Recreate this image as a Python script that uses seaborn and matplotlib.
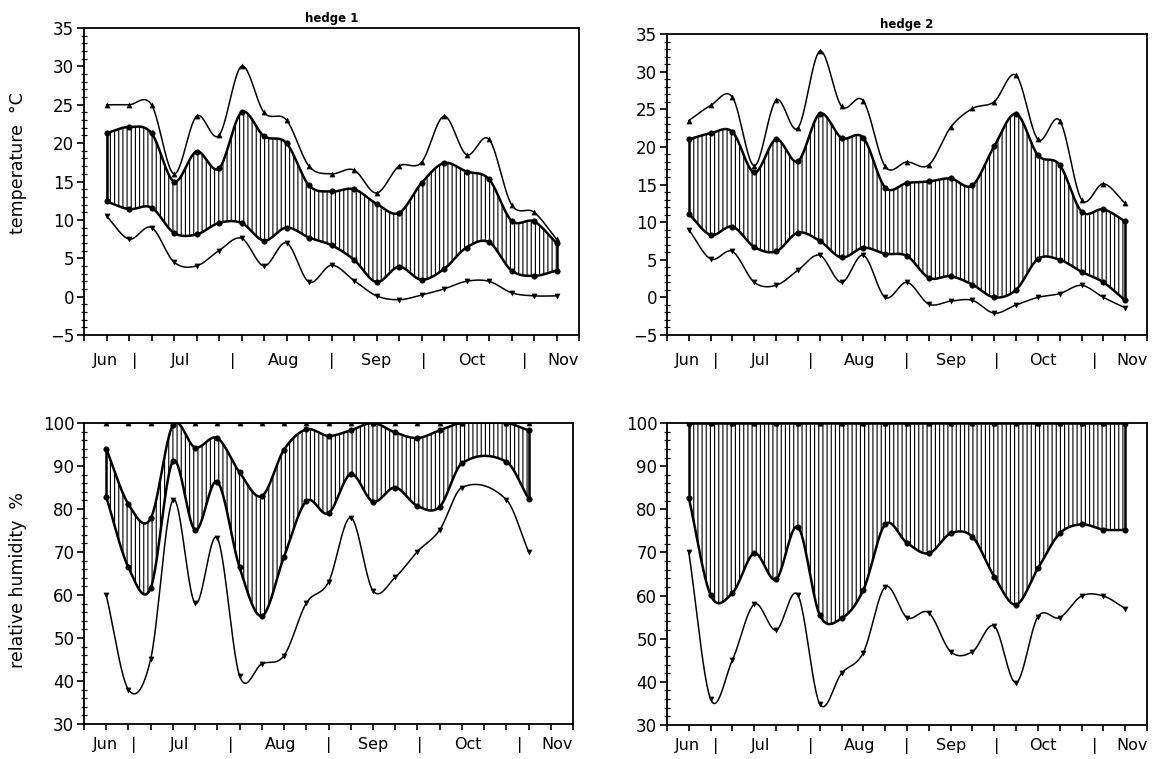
import numpy as np
import matplotlib
matplotlib.use("Agg")
import matplotlib.pyplot as plt
import seaborn as sns

# ---------------- data ----------------
idx = list(range(21))
idx_rh1 = [0, 1, 2, 3, 4, 5, 6, 7, 8, 9, 10, 11, 12, 13, 14, 15, 16, 18, 19]

t1_max = [25, 25, 25, 16, 23.5, 21, 30, 24, 23, 17, 16, 16.5, 13.5, 17, 17.5, 23.5, 18.5, 20.5, 12, 11, 7.5]
t1_upper = [21.3, 22.1, 21.3, 15, 18.9, 16.7, 24, 20.9, 20, 14.5, 13.7, 14, 12.1, 10.9, 14.8, 17.4, 16.3, 15.3, 9.9, 9.8, 7]
t1_lower = [12.4, 11.4, 11.6, 8.3, 8.1, 9.6, 9.6, 7.3, 9, 7.7, 6.7, 4.8, 1.9, 3.9, 2.2, 3.6, 6.4, 7.1, 3.4, 2.7, 3.4]
t1_min = [10.5, 7.5, 9, 4.5, 4, 6, 7.6, 4, 7, 1.9, 4.1, 2.1, 0.1, -0.4, 0.2, 1, 2, 2, 0.5, 0.1, 0.1]

t2_max = [23.5, 25.5, 26.6, 17.5, 26.2, 22.5, 32.7, 25.4, 26.1, 17.4, 18, 17.6, 22.6, 25.1, 26, 29.5, 21, 23.5, 13, 15.1, 12.5]
t2_upper = [21, 21.8, 22, 16.6, 21, 18.1, 24.4, 21.2, 21.2, 14.6, 15.2, 15.4, 15.8, 14.9, 20.1, 24.4, 18.9, 17.6, 11.4, 11.7, 10.1]
t2_lower = [11.1, 8.3, 9.4, 6.7, 6.1, 8.6, 7.5, 5.3, 6.6, 5.8, 5.5, 2.6, 2.8, 1.7, 0, 1, 5.1, 5, 3.4, 2, -0.4]
t2_min = [9, 5.1, 6.1, 2, 1.6, 3.6, 5.6, 2, 5.6, 0, 2, -0.9, -0.5, -0.4, -2.1, -1, 0, 0.5, 1.6, 0, -1.4]

rh1_max = [100] * 19
rh1_upper = [94, 81.1, 77.8, 99.5, 94.3, 96.5, 88.5, 83, 93.8, 98.5, 97, 98.3, 100, 97.8, 96.5, 98.3, 100, 100, 98.3]
rh1_lower = [82.8, 66.4, 61.6, 91.1, 75.1, 86.3, 66.4, 55.1, 68.9, 81.8, 79, 88.1, 81.7, 85, 80.7, 80.5, 90.6, 91, 82.4]
rh1_min = [60, 38, 45.1, 82.1, 58.1, 73.2, 41.2, 44, 45.9, 58.1, 63, 78, 61, 64.1, 70.1, 75.1, 85, 82.2, 70.1]

rh2_max = [100] * 21
rh2_upper = [100] * 21
rh2_lower = [82.7, 60.1, 60.6, 69.8, 63.8, 75.9, 55.5, 54.7, 61.3, 76.5, 72.2, 69.8, 74.4, 73.6, 64.4, 57.9, 66.3, 74.4, 76.5, 75.3, 75.2]
rh2_min = [70, 36, 45.1, 58, 52, 60.1, 34.9, 42, 46.8, 62, 54.9, 56, 47, 47, 52.9, 39.8, 55.1, 54.9, 59.9, 59.9, 57]

month_labels = ["Jun", "|", "Jul", "|", "Aug", "|", "Sep", "|", "Oct", "|", "Nov"]
month_pos = [-0.05, 1.25, 3.3, 5.6, 7.85, 10.0, 12.0, 14.1, 16.25, 18.6, 20.3]

titles = ["hedge 1", "hedge 2"]
ylabels = ["temperature  \u00b0C", "relative humidity  %"]

# ---------------- helpers ----------------
def smooth(x, y, n=24):
    """Catmull-Rom rendering of a line through the data points."""
    x = np.asarray(x, float)
    y = np.asarray(y, float)
    m = len(x)
    tang = np.zeros(m)
    tang[1:-1] = (y[2:] - y[:-2]) / (x[2:] - x[:-2])
    tang[0] = (y[1] - y[0]) / (x[1] - x[0])
    tang[-1] = (y[-1] - y[-2]) / (x[-1] - x[-2])
    xs, ys = [], []
    for i in range(m - 1):
        h = x[i + 1] - x[i]
        t = np.linspace(0, 1, n, endpoint=(i == m - 2))
        h00 = 2 * t**3 - 3 * t**2 + 1
        h10 = t**3 - 2 * t**2 + t
        h01 = -2 * t**3 + 3 * t**2
        h11 = t**3 - t**2
        xs.append(x[i] + t * h)
        ys.append(h00 * y[i] + h10 * h * tang[i] + h01 * y[i + 1] + h11 * h * tang[i + 1])
    return np.concatenate(xs), np.concatenate(ys)


sns.set_style("ticks")
plt.rcParams["font.family"] = ["DejaVu Sans"]
plt.rcParams["hatch.linewidth"] = 0.8
plt.rcParams["hatch.color"] = "black"
plt.rcParams["text.color"] = "black"
plt.rcParams["xtick.labelcolor"] = "black"
plt.rcParams["ytick.labelcolor"] = "black"

fig = plt.figure(figsize=(11.63, 7.59), dpi=100)
W, H = 1163, 759


def add_axes(l, t, r, b):
    return fig.add_axes([l / W, 1 - b / H, (r - l) / W, (b - t) / H])


ax_tl = add_axes(84, 28, 579, 335)
ax_tr = add_axes(667, 34, 1147, 335)
ax_bl = add_axes(84, 423, 573, 724)
ax_br = add_axes(667, 423, 1147, 725)

panels = [
    (ax_tl, idx, t1_max, t1_upper, t1_lower, t1_min, (-5, 35), 5, 1, 13),
    (ax_tr, idx, t2_max, t2_upper, t2_lower, t2_min, (-5, 35), 5, 1, 13),
    (ax_bl, idx_rh1, rh1_max, rh1_upper, rh1_lower, rh1_min, (30, 100), 10, 2, 9.5),
    (ax_br, idx, rh2_max, rh2_upper, rh2_lower, rh2_min, (30, 100), 10, 2, 9.5),
]

for ax, x, smax, sup, slo, smin, ylim, major, minor, xpad in panels:
    xu, yu = smooth(x, sup)
    xl, yl = smooth(x, slo)
    ax.fill_between(xu, yl, yu, facecolor="none", edgecolor="black",
                    hatch="||||", linewidth=0)
    ax.vlines([x[0], x[-1]], [slo[0], slo[-1]], [sup[0], sup[-1]],
              color="black", lw=1.8)
    for ser, lw in [(smax, 1.1), (sup, 1.8), (slo, 1.8), (smin, 1.1)]:
        xs, ys = smooth(x, ser)
        sns.lineplot(x=xs, y=ys, ax=ax, color="black", lw=lw,
                     estimator=None, sort=False)
    sns.scatterplot(x=x, y=smax, ax=ax, marker="^", color="black", s=14,
                    edgecolor="black", linewidth=0.3, zorder=5)
    sns.scatterplot(x=x, y=sup, ax=ax, marker="o", color="black", s=16,
                    edgecolor="black", linewidth=0.3, zorder=5)
    sns.scatterplot(x=x, y=slo, ax=ax, marker="o", color="black", s=16,
                    edgecolor="black", linewidth=0.3, zorder=5)
    sns.scatterplot(x=x, y=smin, ax=ax, marker="v", color="black", s=14,
                    edgecolor="black", linewidth=0.3, zorder=5)

    ax.set_xlim(-1, 21)
    ax.set_ylim(*ylim)
    ax.xaxis.remove_overlapping_locs = False
    ax.set_xticks(range(-1, 22))
    ax.set_xticklabels([])
    ax.set_xticks(month_pos, month_labels, minor=True)
    ax.tick_params(axis="x", which="major", direction="out", length=4,
                   width=1.2, color="black")
    ax.tick_params(axis="x", which="minor", length=0, pad=xpad,
                   labelsize=11.5, labelcolor="black")
    ax.set_yticks(np.arange(ylim[0], ylim[1] + 0.1, major))
    ax.set_yticks(np.arange(ylim[0], ylim[1] + 0.1, minor), minor=True)
    ax.tick_params(axis="y", which="major", direction="out", length=5,
                   width=1.2, labelsize=12, color="black", labelcolor="black",
                   pad=2)
    ax.tick_params(axis="y", which="minor", direction="inout", length=4,
                   width=0.9, color="black")
    for sp in ax.spines.values():
        sp.set_visible(True)
        sp.set_color("black")
        sp.set_linewidth(1.3)
    ax.set_xlabel("")
    ax.set_ylabel("")

ax_tl.set_title(titles[0], fontsize=8.5, fontweight="bold", pad=4)
ax_tr.set_title(titles[1], fontsize=8.5, fontweight="bold", pad=4)

fig.text(18 / W, 1 - 163 / H, ylabels[0], rotation=90, ha="center",
         va="center", fontsize=12.5, color="black")
fig.text(18 / W, 1 - 580 / H, ylabels[1], rotation=90, ha="center",
         va="center", fontsize=12.5, color="black")

fig.savefig("out.png", dpi=100)
